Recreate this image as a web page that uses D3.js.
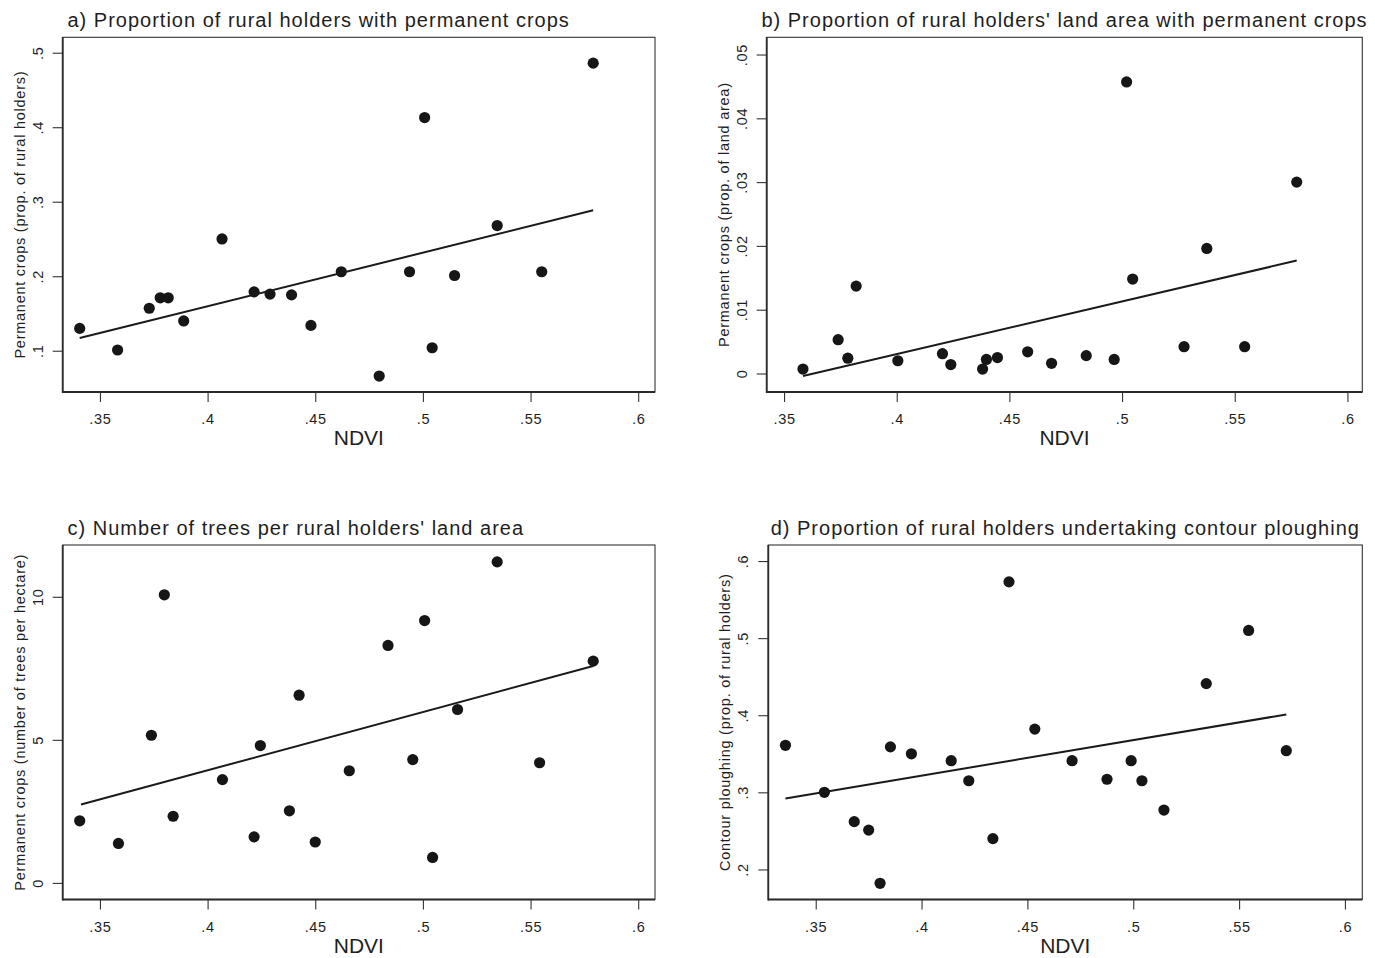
<!DOCTYPE html>
<html>
<head>
<meta charset="utf-8">
<script src="https://cdn.jsdelivr.net/npm/d3@7"></script>
<style>
    body { margin: 0; background: #ffffff; }
    text { font-family: "Liberation Sans", Arial, sans-serif; fill: #1e1e1e; }
    .title { font-size: 20px; letter-spacing: 1px; }
    .tick_label { font-size: 14.5px; letter-spacing: 0.7px; }
    .y_title { font-size: 14.5px; letter-spacing: 0.75px; }
    .x_title { font-size: 21px; }
</style>
</head>
<body>
<div id="d3-container"></div>
<script>
// ---- data ----
let titles = [
    "a) Proportion of rural holders with permanent crops",
    "b) Proportion of rural holders' land area with permanent crops",
    "c) Number of trees per rural holders' land area",
    "d) Proportion of rural holders undertaking contour ploughing"
];
let y_titles = [
    "Permanent crops (prop. of rural holders)",
    "Permanent crops (prop. of land area)",
    "Permanent crops (number of trees per hectare)",
    "Contour ploughing (prop. of rural holders)"
];
let x_title = "NDVI";

let x_ticks = [0.35, 0.4, 0.45, 0.5, 0.55, 0.6];
let x_tick_labels = [".35", ".4", ".45", ".5", ".55", ".6"];

let y_ticks_a = [0.1, 0.2, 0.3, 0.4, 0.5];
let y_tick_labels_a = [".1", ".2", ".3", ".4", ".5"];
let y_ticks_b = [0, 0.01, 0.02, 0.03, 0.04, 0.05];
let y_tick_labels_b = ["0", ".01", ".02", ".03", ".04", ".05"];
let y_ticks_c = [0, 5, 10];
let y_tick_labels_c = ["0", "5", "10"];
let y_ticks_d = [0.2, 0.3, 0.4, 0.5, 0.6];
let y_tick_labels_d = [".2", ".3", ".4", ".5", ".6"];

let ndvi_a = [0.3406, 0.3582, 0.3729, 0.378, 0.3817, 0.3889, 0.4067, 0.4216, 0.429, 0.439,
              0.448, 0.4621, 0.4797, 0.4938, 0.5008, 0.5043, 0.5147, 0.5345, 0.5552, 0.5791];
let value_a = [0.130, 0.101, 0.157, 0.171, 0.171, 0.140, 0.250, 0.179, 0.176, 0.175,
               0.134, 0.206, 0.066, 0.206, 0.413, 0.104, 0.201, 0.268, 0.206, 0.486];
let fit_a_x = [0.3406, 0.5791];
let fit_a_y = [0.117, 0.2885];

let ndvi_b = [0.3584, 0.374, 0.3783, 0.382, 0.4005, 0.4203, 0.424, 0.4381, 0.4398, 0.4447,
              0.4581, 0.4687, 0.4841, 0.4965, 0.502, 0.5047, 0.5275, 0.5376, 0.5544, 0.5775];
let value_b = [0.0007, 0.0053, 0.0024, 0.0137, 0.0020, 0.0031, 0.0014, 0.0007, 0.0022, 0.0025,
               0.0034, 0.0016, 0.0028, 0.0022, 0.0457, 0.0148, 0.0042, 0.0196, 0.0042, 0.0300];
let fit_b_x = [0.3584, 0.5775];
let fit_b_y = [-0.0004, 0.0177];

let ndvi_c = [0.3406, 0.3586, 0.3739, 0.3799, 0.384, 0.4069, 0.4216, 0.4245, 0.438, 0.4425,
              0.45, 0.4658, 0.4838, 0.4953, 0.5008, 0.5045, 0.5161, 0.5345, 0.5542, 0.5791];
let value_c = [2.17, 1.38, 5.16, 10.07, 2.33, 3.61, 1.61, 4.80, 2.52, 6.56,
               1.43, 3.92, 8.30, 4.31, 9.17, 0.89, 6.06, 11.22, 4.20, 7.75];
let fit_c_x = [0.3412, 0.5791];
let fit_c_y = [2.74, 7.58];

let ndvi_d = [0.3357, 0.3541, 0.3682, 0.375, 0.3804, 0.3853, 0.3952, 0.414, 0.4223, 0.4337,
              0.4413, 0.4535, 0.4711, 0.4876, 0.499, 0.5041, 0.5145, 0.5345, 0.5545, 0.5723];
let value_d = [0.361, 0.300, 0.262, 0.251, 0.182, 0.359, 0.350, 0.341, 0.315, 0.240,
               0.573, 0.382, 0.341, 0.317, 0.341, 0.315, 0.277, 0.441, 0.510, 0.354];
let fit_d_x = [0.3357, 0.5723];
let fit_d_y = [0.292, 0.401];

// ---- layout ----
let window_width = 1375;
let window_height = 958;
let tick_size = 10;
let dot_radius = 5.6;

let panels = [
    {left: 62.7, right: 655, top: 37.3, bottom: 392,
     x_domain: [0.3327, 0.6078], y_domain: [0.0446, 0.5207],
     title_anchor: "start", title_x: 67.5,
     ndvi: ndvi_a, values: value_a, fit_x: fit_a_x, fit_y: fit_a_y,
     y_ticks: y_ticks_a, y_tick_labels: y_tick_labels_a},
    {left: 766.7, right: 1362.3, top: 37.3, bottom: 392,
     x_domain: [0.3423, 0.6066], y_domain: [-0.0029, 0.0527],
     title_anchor: "middle", title_x: null,
     ndvi: ndvi_b, values: value_b, fit_x: fit_b_x, fit_y: fit_b_y,
     y_ticks: y_ticks_b, y_tick_labels: y_tick_labels_b},
    {left: 62.7, right: 655, top: 545, bottom: 899.5,
     x_domain: [0.3327, 0.6078], y_domain: [-0.58, 11.81],
     title_anchor: "start", title_x: 67.5,
     ndvi: ndvi_c, values: value_c, fit_x: fit_c_x, fit_y: fit_c_y,
     y_ticks: y_ticks_c, y_tick_labels: y_tick_labels_c},
    {left: 768.3, right: 1362.3, top: 545, bottom: 899.5,
     x_domain: [0.3276, 0.6082], y_domain: [0.161, 0.6208],
     title_anchor: "middle", title_x: null,
     ndvi: ndvi_d, values: value_d, fit_x: fit_d_x, fit_y: fit_d_y,
     y_ticks: y_ticks_d, y_tick_labels: y_tick_labels_d}
];

function init(){
    let svg = d3.select("#d3-container").append("svg")
        .attr("width", window_width)
        .attr("height", window_height);

    for (let i=0; i<panels.length; i++){
        draw_panel(svg, panels[i], i);
    }
}

function draw_panel(svg, p, i){
    let x = d3.scaleLinear().domain(p.x_domain).range([p.left, p.right]);
    let y = d3.scaleLinear().domain(p.y_domain).range([p.bottom, p.top]);
    let g = svg.append("g");

    // plot region outline
    g.append("rect")
        .attr("x", p.left)
        .attr("y", p.top)
        .attr("width", p.right - p.left)
        .attr("height", p.bottom - p.top)
        .style("fill", "none")
        .style("stroke", "#333")
        .style("stroke-width", 1.1);

    // x axis
    let x_axis = d3.axisBottom(x)
        .tickValues(x_ticks)
        .tickSize(tick_size)
        .tickFormat((d, k) => x_tick_labels[k]);
    let xg = g.append("g")
        .attr("transform", "translate(0," + p.bottom + ")")
        .call(x_axis);
    style_axis(xg);
    xg.selectAll(".tick text")
        .attr("y", 32)
        .attr("dy", 0)
        .attr("text-anchor", "middle");
    xg.select(".domain").remove();

    // y axis, labels turned on their side
    let y_axis = d3.axisLeft(y)
        .tickValues(p.y_ticks)
        .tickSize(tick_size)
        .tickFormat((d, k) => p.y_tick_labels[k]);
    let yg = g.append("g")
        .attr("transform", "translate(" + p.left + ",0)")
        .call(y_axis);
    style_axis(yg);
    yg.selectAll(".tick text")
        .attr("transform", "rotate(-90)")
        .attr("x", 0)
        .attr("y", -20)
        .attr("dy", 0)
        .attr("text-anchor", "middle");
    yg.select(".domain").remove();

    // heavier axis lines on left and bottom
    g.append("line")
        .attr("x1", p.left).attr("x2", p.right)
        .attr("y1", p.bottom).attr("y2", p.bottom)
        .style("stroke", "#2a2a2a")
        .style("stroke-width", 1.8);
    g.append("line")
        .attr("x1", p.left).attr("x2", p.left)
        .attr("y1", p.top).attr("y2", p.bottom + 0.9)
        .style("stroke", "#2a2a2a")
        .style("stroke-width", 1.8);

    // points
    let pts = p.ndvi.map((v, k) => [v, p.values[k]]);
    g.selectAll("circle")
        .data(pts)
        .enter()
        .append("circle")
        .attr("cx", d => x(d[0]))
        .attr("cy", d => y(d[1]))
        .attr("r", dot_radius)
        .style("fill", "#161616");

    // fitted line
    let fit = p.fit_x.map((v, k) => [v, p.fit_y[k]]);
    g.append("path")
        .datum(fit)
        .attr("d", d3.line().x(d => x(d[0])).y(d => y(d[1])))
        .style("fill", "none")
        .style("stroke", "#1a1a1a")
        .style("stroke-width", 2);

    // titles
    let tx = p.title_x == null ? (p.left + p.right) / 2 : p.title_x;
    g.append("text")
        .classed("title", true)
        .attr("x", tx)
        .attr("y", p.top - 10.5)
        .attr("text-anchor", p.title_anchor)
        .text(titles[i]);

    g.append("text")
        .classed("x_title", true)
        .attr("x", (p.left + p.right) / 2)
        .attr("y", p.bottom + 53)
        .attr("text-anchor", "middle")
        .text(x_title);

    g.append("text")
        .classed("y_title", true)
        .attr("transform", "translate(" + (p.left - 38) + "," + ((p.top + p.bottom) / 2) + ") rotate(-90)")
        .attr("text-anchor", "middle")
        .text(y_titles[i]);
}

function style_axis(ax){
    ax.selectAll(".tick line")
        .style("stroke", "#333")
        .style("stroke-width", 1.1);
    ax.selectAll(".tick text")
        .classed("tick_label", true)
        .style("font-size", null)
        .style("font-family", null)
        .attr("fill", null);
    ax.attr("font-size", null).attr("font-family", null);
}

init();
</script>
</body>
</html>
